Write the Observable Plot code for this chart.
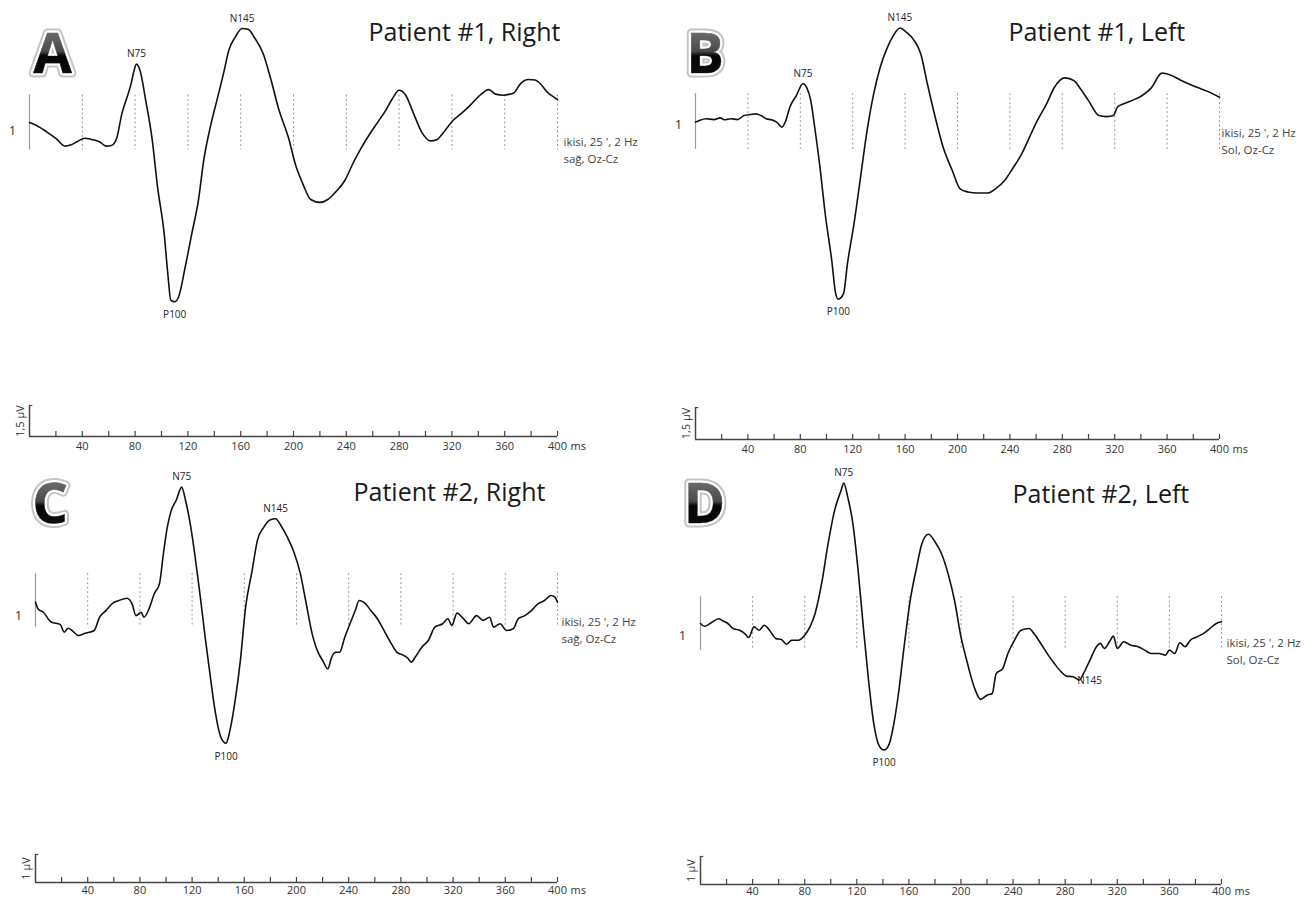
<!DOCTYPE html>
<html><head><meta charset="utf-8">
<script src="https://cdn.jsdelivr.net/npm/d3@7"></script>
<script src="https://cdn.jsdelivr.net/npm/@observablehq/plot@0.6"></script>
<style>
html,body{margin:0;padding:0;background:#fff;}
#wrap{position:relative;width:1314px;height:899px;overflow:hidden;background:#fff;}
#wrap svg{position:absolute;overflow:visible;}
</style></head><body><div id="wrap"></div>
<script>
// ---------- data ----------
const minorTicks = [20,40,60,80,100,120,140,160,180,200,220,240,260,280,300,320,340,360,380,400];
const tickLabels = [40,80,120,160,200,240,280,320,360,400];
const peakNames = ["N75","P100","N145"];

const timeA = [0,5,13,20,27,31,36,42,47,53,58,62,66,70,74,77,79,81,84,88,93,97,102,105,107,110,113,118,123,128,132,137,142,147,151,156,161,166,170,177,183,189,196,202,207,213,220,226,232,239,245,251,258,264,270,275,280,285,291,297,304,308,315,321,327,334,340,348,353,359,364,367,372,378,383,388,392,397,400];
const ampA = [0,0.13,0.45,0.77,1.14,1.09,0.93,0.76,0.82,0.93,1.14,1.11,0.77,-0.43,-1.24,-1.88,-2.45,-2.82,-2.45,-1.08,0.85,3.11,5.36,7.46,8.58,8.66,8.42,6.97,5.36,3.75,1.82,0.21,-1.08,-2.37,-3.49,-4.14,-4.54,-4.49,-4.14,-3.33,-2.05,-0.60,0.69,2.14,2.95,3.72,3.86,3.72,3.35,2.79,1.98,1.26,0.53,-0.03,-0.60,-1.16,-1.56,-1.32,-0.43,0.45,0.89,0.85,0.37,-0.11,-0.43,-0.84,-1.24,-1.59,-1.37,-1.32,-1.37,-1.43,-1.88,-2.08,-2.05,-1.80,-1.48,-1.24,-1.11];
const peakTimesA = [81,110,161];

const timeB = [0,3,8,14,19,22,27,32,37,42,46,50,54,58,62,66,69,72,77,82,85,88,91,95,99,104,107,109,113,116,121,126,131,136,141,146,151,156,161,167,172,177,183,189,196,202,208,215,223,229,236,242,249,255,261,268,274,282,289,293,300,308,314,319,322,327,333,341,348,356,362,370,378,386,394,400];
const ampB = [0.03,-0.05,-0.13,-0.09,-0.17,-0.08,-0.13,-0.09,-0.28,-0.33,-0.36,-0.28,-0.13,-0.08,0.03,0.27,-0.05,-0.67,-1.22,-1.77,-1.58,-0.98,0.27,2.14,4.33,6.52,8.08,8.34,8.08,6.67,4.80,2.61,0.42,-1.30,-2.55,-3.41,-4.03,-4.39,-4.19,-3.80,-3.17,-1.77,-0.20,1.20,2.30,3.16,3.31,3.36,3.36,3.16,2.77,2.22,1.52,0.73,-0.05,-0.83,-1.61,-2.05,-1.92,-1.61,-0.98,-0.28,-0.23,-0.28,-0.67,-0.83,-0.98,-1.22,-1.58,-2.27,-2.20,-1.95,-1.73,-1.53,-1.33,-1.14];
const peakTimesB = [82,109,156];

const timeC = [0,2,6,12,19,22,25,28,33,38,45,49,54,59,64,70,74,77,81,83,87,91,95,98,101,104,108,112,115,119,122,126,130,134,138,142,146,149,153,157,161,166,170,175,180,184,188,193,198,203,207,212,217,220,224,227,230,233,237,241,245,248,253,257,262,267,272,277,282,285,288,291,296,301,306,312,316,319,323,327,332,338,343,348,351,356,361,366,370,375,380,385,390,395,398,400];
const ampC = [0.06,0.30,0.42,0.77,0.86,1.13,0.99,1.07,1.25,1.17,1.07,0.60,0.36,0.10,0,-0.08,0.12,0.54,0.42,0.60,0.30,-0.24,-0.60,-1.67,-2.62,-3.21,-3.60,-4.05,-3.57,-2.62,-1.67,-0.24,1.31,2.74,4.05,4.88,5.10,4.64,3.57,2.14,0.24,-1.07,-2.14,-2.62,-2.88,-2.92,-2.68,-2.26,-1.73,-0.95,0,1.19,1.90,2.14,2.44,2.02,1.85,1.85,1.31,0.83,0.36,0,0.12,0.36,0.65,1.07,1.49,1.85,1.96,2.05,2.20,2.02,1.67,1.43,0.95,0.83,0.65,0.89,0.45,0.60,0.83,0.54,0.71,0.60,0.95,0.83,1.07,1.01,0.65,0.54,0.36,0.12,0,-0.18,-0.12,0.06];
const peakTimesC = [112,146,184];

const timeD = [0,3,8,14,17,21,25,30,34,37,41,45,49,53,58,62,66,70,75,80,84,88,93,98,103,108,110,113,117,121,125,129,133,137,141,145,148,152,156,161,166,170,175,180,185,190,195,200,205,207,211,215,220,224,227,232,236,241,246,252,257,262,267,272,277,281,286,291,294,299,304,307,310,314,317,320,325,330,336,341,346,352,357,360,364,368,372,376,381,386,391,396,400];
const ampD = [0,0.10,-0.02,-0.17,-0.10,0,0.18,0.24,0.36,0.50,0.12,0.24,0.06,0.24,0.54,0.57,0.74,0.60,0.60,0.42,0.12,-0.36,-1.43,-2.86,-4.05,-4.76,-5.02,-4.52,-3.57,-1.90,0.12,2.02,3.57,4.35,4.52,4.29,3.69,2.50,0.95,-0.83,-2.02,-2.86,-3.19,-2.92,-2.50,-1.79,-0.83,0.48,1.43,1.79,2.38,2.71,2.56,2.50,1.79,1.61,1.07,0.60,0.24,0.18,0.42,0.77,1.13,1.45,1.73,1.88,1.90,2.02,1.79,1.31,0.83,0.71,0.89,0.65,0.45,0.89,0.65,0.77,0.83,0.95,1.07,1.07,1.13,0.95,1.07,0.69,0.83,0.60,0.48,0.36,0.18,0,-0.06];
const peakTimesD = [110,141,291];

const letters = ["A","B","C","D"];
const titles = ["Patient #1, Right","Patient #1, Left","Patient #2, Right","Patient #2, Left"];
const infoTexts = ["ikisi, 25 ', 2 Hz\nsağ, Oz-Cz","ikisi, 25 ', 2 Hz\nSol, Oz-Cz","ikisi, 25 ', 2 Hz\nsağ, Oz-Cz","ikisi, 25 ', 2 Hz\nSol, Oz-Cz"];
const scaleValues = [1.5, 1.5, 1, 1];
const scaleLabels = ["1,5 µV","1,5 µV","1 µV","1 µV"];
const channelLabel = "1";

// ---------- layout (pixels) ----------
const layout = [
  {left:0,   top:0,   w:657, h:455, x0:29, x1:557, base:122, k:20.7, axisPx:436, gh:1.33, oneDx:-17, oneDy:8,  infoDx:6, infoDy:12, tdx:368, tdy:23, lcx:52,   lcy:33, pad:6, n145:null},
  {left:657, top:0,   w:657, h:455, x0:38, x1:562, base:121, k:21.3, axisPx:439, gh:1.31, oneDx:-17, oneDy:3,  infoDx:2, infoDy:4,  tdx:351, tdy:23, lcx:47.5, lcy:33, pad:6, n145:null},
  {left:0,   top:455, w:657, h:444, x0:35, x1:557, base:145, k:28,   axisPx:427, gh:0.96, oneDx:-17, oneDy:15, infoDx:4, infoDy:14, tdx:353, tdy:28, lcx:49.5, lcy:28, pad:4, n145:null},
  {left:657, top:455, w:657, h:444, x0:43, x1:564, base:168, k:28,   axisPx:429, gh:0.96, oneDx:-18, oneDy:12, infoDx:5, infoDy:12, tdx:355, tdy:30, lcx:47,   lcy:28, pad:3, n145:{dx:10, dy:1}}
];
const series = [[timeA, ampA, peakTimesA],[timeB, ampB, peakTimesB],[timeC, ampC, peakTimesC],[timeD, ampD, peakTimesD]];

const FONT = "'Open Sans', 'Noto Sans', sans-serif";
const wrap = document.getElementById("wrap");

layout.forEach((L, i) => {
  const [ts, vs, pts] = series[i];
  const data = ts.map((t, j) => ({t, v: vs[j]}));
  const peaks = peakNames.map((name, j) => ({name, t: pts[j], v: vs[ts.indexOf(pts[j])]}));
  const isSpecial = d => L.n145 && d.name === "N145";
  const nPeaks = peaks.filter(d => d.name[0] === "N" && !isSpecial(d));
  const pPeaks = peaks.filter(d => d.name[0] === "P");
  const sPeaks = peaks.filter(isSpecial);
  const axisV = (L.axisPx - L.base) / L.k;
  const sv = scaleValues[i];
  const gid = "grad" + letters[i];
  const peakText = {x: "t", y: "v", text: "name", fontSize: 10, fill: "#222", fontFamily: FONT};
  const letterOpts = {frameAnchor: "top-left", dx: L.lcx, dy: L.lcy, textAnchor: "middle", lineAnchor: "top", fontSize: 56, fontWeight: "bold", fontFamily: FONT};

  const chart = Plot.plot({
    width: L.w, height: L.h,
    marginTop: 0, marginLeft: 0, marginRight: 0, marginBottom: L.h - L.axisPx,
    x: {domain: [0, 400], range: [L.x0, L.x1]},
    y: {domain: [0, 1], range: [L.base, L.base + L.k], axis: null},
    style: {fontFamily: FONT, fontSize: "11px", color: "#333", background: "transparent", overflow: "visible"},
    marks: [
      // channel grid
      Plot.ruleX(tickLabels, {x: d => d, y1: -L.gh, y2: L.gh, stroke: "#9a9a9a", strokeWidth: 1, strokeDasharray: "2,2.5"}),
      Plot.ruleX([0], {y1: -L.gh, y2: L.gh, stroke: "#999", strokeWidth: 1.2}),
      Plot.text([channelLabel], {x: 0, y: 0, dx: L.oneDx, dy: L.oneDy, fontSize: 13, fill: "#333", fontFamily: FONT}),
      // waveform
      Plot.line(data, {x: "t", y: "v", stroke: "#111", strokeWidth: 1.6, curve: "monotone-x"}),
      // peak labels
      Plot.text(nPeaks, {...peakText, dy: -10}),
      Plot.text(pPeaks, {...peakText, dy: 13}),
      Plot.text(sPeaks, {...peakText, dx: L.n145 ? L.n145.dx : 0, dy: L.n145 ? L.n145.dy : 0}),
      // info text
      Plot.text([infoTexts[i]], {x: 400, y: 0, dx: L.infoDx, dy: L.infoDy, textAnchor: "start", lineAnchor: "top", lineHeight: 1.45, fontSize: 11.5, fill: "#444", fontFamily: FONT}),
      // time axis
      Plot.ruleY([axisV], {x1: 0, x2: 400, stroke: "#444", strokeWidth: 1.5}),
      Plot.axisX(minorTicks, {tickSize: -5, tickFormat: () => "", label: null, color: "#444", strokeWidth: 1.2}),
      Plot.axisX(tickLabels, {tickSize: 0, tickPadding: L.pad, label: null, fontSize: 11, color: "#333", fontFamily: FONT}),
      Plot.text(["ms"], {x: 400, y: axisV, dx: 13, dy: L.pad, textAnchor: "start", lineAnchor: "top", fontSize: 11, fill: "#333", fontFamily: FONT}),
      // amplitude scale bar
      Plot.ruleX([0], {y1: axisV - sv, y2: axisV, stroke: "#444", strokeWidth: 1.5}),
      Plot.ruleY([axisV - sv], {x1: 0, x2: 2.5, stroke: "#444", strokeWidth: 1.2}),
      Plot.text([scaleLabels[i]], {x: 0, y: axisV - sv / 2, dx: -9, rotate: -90, fontSize: 11, fill: "#333", fontFamily: FONT}),
      // title
      Plot.text([titles[i]], {frameAnchor: "top-left", dx: L.tdx, dy: L.tdy, textAnchor: "start", lineAnchor: "top", fontSize: 25, fill: "#1a1a1a", fontFamily: FONT}),
      // panel letter (glow, white rim, gradient fill)
      Plot.text([letters[i]], {...letterOpts, fill: "#c4c4c4", stroke: "#c4c4c4", strokeWidth: 9}),
      Plot.text([letters[i]], {...letterOpts, fill: "#fff", stroke: "#fff", strokeWidth: 5}),
      Plot.text([letters[i]], {...letterOpts, fill: `url(#${gid})`, stroke: "#555", strokeWidth: 0.6})
    ]
  });
  d3.select(chart).insert("defs", ":first-child").html(
    `<linearGradient id="${gid}" x1="0" y1="0" x2="0" y2="1">
       <stop offset="0" stop-color="#8a8a8a"/><stop offset="0.5" stop-color="#4a4a4a"/>
       <stop offset="0.56" stop-color="#050505"/><stop offset="1" stop-color="#111"/>
     </linearGradient>`);
  chart.style.left = L.left + "px";
  chart.style.top = L.top + "px";
  wrap.appendChild(chart);
});
</script>
</body></html>
